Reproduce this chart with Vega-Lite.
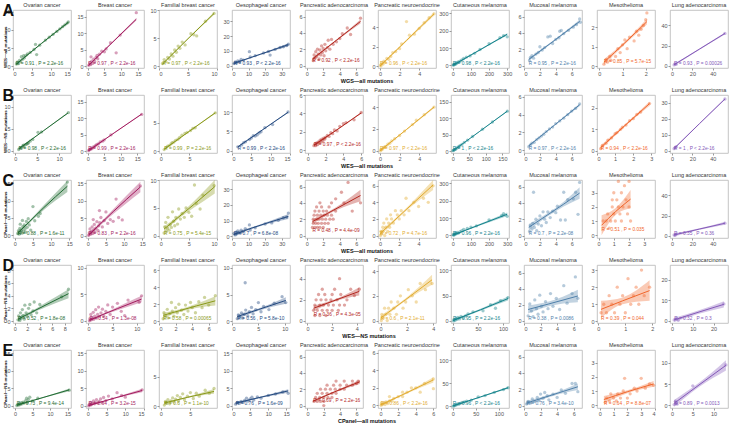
{
"$schema":"https://vega.github.io/schema/vega-lite/v6.json",
"padding":{"left":2,"top":2,"right":2,"bottom":1},
"config":{"font":"Liberation Sans","view":{"stroke":"#b5b5b5","strokeWidth":0.8},
"axis":{"grid":false,"domain":false,"tickColor":"#999","tickSize":2,"labelFontSize":5.5,"labelColor":"#555","labelPadding":1,"tickCount":3,"title":null},
"header":{"labelFontSize":5.5,"labelColor":"#333","labelPadding":2,"titleFontSize":5.5,"titleFontWeight":"bold","titleColor":"#111","titlePadding":1},
"headerColumn":{"titleOrient":"bottom","labelExpr":"['','Ovarian cancer','Breast cancer','Familial breast cancer','Oesophageal cancer','Pancreatic adenocarcinoma','Pancreatic neuroendocrine','Cutaneous melanoma','Mucosal melanoma','Mesothelioma','Lung adenocarcinoma'][datum.value]"},
"headerRow":{"labelFontWeight":"bold","labelAngle":-90,"labelOrient":"left","labelPadding":3,"labelColor":"#111","labelFontSize":4.4,"labelAnchor":"start"},
"concat":{"spacing":2},
"title":{"anchor":"start","fontSize":16,"fontWeight":"bold","color":"#111","offset":-16}},
"datasets":{
"A":[
{"k":"d","c":1,"x":0,"y":-0.5},{"k":"d","c":1,"x":15.2,"y":15.5},
{"k":"f","c":1,"x":0.8,"y":0.5,"l":0.3,"h":0.7},{"k":"f","c":1,"x":7.5,"y":6.3,"l":6.15,"h":6.45},{"k":"f","c":1,"x":14.5,"y":12.1,"l":11.8,"h":12.4},
{"k":"t","c":1,"x":0.8,"y":0.62,"s":"R = 0.91 , P = 2.2e-16"},
{"c":1,"x":0.9,"y":0.6},{"c":1,"x":1.1,"y":1.1},{"c":1,"x":1.4,"y":0.7},{"c":1,"x":1.7,"y":1.6},{"c":1,"x":2,"y":1.2},{"c":1,"x":2.2,"y":2.6},{"c":1,"x":2.5,"y":1.9},{"c":1,"x":2.8,"y":2.9},{"c":1,"x":3,"y":2.3},{"c":1,"x":3.4,"y":3},{"c":1,"x":3.8,"y":3.4},{"c":1,"x":4.5,"y":3.8},{"c":1,"x":5.5,"y":4.6},{"c":1,"x":5.9,"y":6},{"c":1,"x":6.2,"y":3.2},{"c":1,"x":7,"y":5.8},{"c":1,"x":8.5,"y":7.2},{"c":1,"x":9.5,"y":8},{"c":1,"x":10.5,"y":8.8},{"c":1,"x":11.5,"y":9.6},{"c":1,"x":12.3,"y":10.3},{"c":1,"x":13,"y":10.9},{"c":1,"x":13.6,"y":11.4},{"c":1,"x":14.2,"y":11.9},{"c":1,"x":14.5,"y":12.2},
{"k":"d","c":2,"x":-0.5,"y":-0.6},{"k":"d","c":2,"x":16.8,"y":17},
{"k":"f","c":2,"x":0.2,"y":0.1,"l":-0.1,"h":0.3},{"k":"f","c":2,"x":7,"y":6.8,"l":6.6,"h":7},{"k":"f","c":2,"x":14.5,"y":14.2,"l":13.8,"h":14.6},
{"k":"t","c":2,"x":0.2,"y":0.63,"s":"R = 0.97 , P < 2.2e-16"},
{"c":2,"x":0.3,"y":0.2},{"c":2,"x":0.6,"y":0.9},{"c":2,"x":0.9,"y":0.4},{"c":2,"x":1.2,"y":1.5},{"c":2,"x":1.5,"y":0.8},{"c":2,"x":1.8,"y":2.1},{"c":2,"x":2.1,"y":1.4},{"c":2,"x":2.5,"y":2.6},{"c":2,"x":3,"y":2.2},{"c":2,"x":3.5,"y":3.6},{"c":2,"x":4.2,"y":4.5},{"c":2,"x":5,"y":4.3},{"c":2,"x":5.5,"y":5.2},{"c":2,"x":6.8,"y":7.1},{"c":2,"x":8.5,"y":4},{"c":2,"x":9.7,"y":9.4},{"c":2,"x":14.5,"y":16.2},{"c":2,"x":2.8,"y":3.2},{"c":2,"x":1,"y":2.8},
{"k":"d","c":3,"x":0,"y":-0.3},{"k":"d","c":3,"x":10,"y":10},
{"k":"f","c":3,"x":0.6,"y":0.4,"l":0.25,"h":0.55},{"k":"f","c":3,"x":5,"y":4.9,"l":4.8,"h":5},{"k":"f","c":3,"x":9.5,"y":9.4,"l":9.15,"h":9.65},
{"k":"t","c":3,"x":0.6,"y":0.42,"s":"R = 0.97 , P < 2.2e-16"},
{"c":3,"x":0.6,"y":0.5},{"c":3,"x":0.9,"y":1.2},{"c":3,"x":1.2,"y":0.8},{"c":3,"x":1.5,"y":1.6},{"c":3,"x":1.8,"y":1.3},{"c":3,"x":2.1,"y":2.2},{"c":3,"x":2.4,"y":1.8},{"c":3,"x":2.7,"y":2.9},{"c":3,"x":3,"y":2.5},{"c":3,"x":3.3,"y":3.6},{"c":3,"x":3.6,"y":3.2},{"c":3,"x":4,"y":4.3},{"c":3,"x":4.5,"y":3.8},{"c":3,"x":5.5,"y":5.8},{"c":3,"x":6,"y":5.6},{"c":3,"x":6.5,"y":5.4},{"c":3,"x":8,"y":8},{"c":3,"x":9.5,"y":9.4},
{"k":"d","c":4,"x":0,"y":-1.5},{"k":"d","c":4,"x":35,"y":37.5},
{"k":"f","c":4,"x":1,"y":1.6,"l":0.9,"h":2.3},{"k":"f","c":4,"x":17,"y":7.7,"l":7.3,"h":8.1},{"k":"f","c":4,"x":34,"y":14.2,"l":13.2,"h":15.2},
{"k":"t","c":4,"x":1,"y":1.23,"s":"R = 0.93 , P < 2.2e-16"},
{"c":4,"x":1.2,"y":1.5},{"c":4,"x":2,"y":2.6},{"c":4,"x":2.8,"y":1.8},{"c":4,"x":3.5,"y":3.2},{"c":4,"x":4.5,"y":2.7},{"c":4,"x":5.5,"y":4.2},{"c":4,"x":7,"y":3.8},{"c":4,"x":10.5,"y":9.5},{"c":4,"x":11,"y":5.9},{"c":4,"x":14,"y":6.8},{"c":4,"x":19,"y":8.6},{"c":4,"x":22,"y":9.6},{"c":4,"x":23,"y":7.2},{"c":4,"x":26,"y":11},{"c":4,"x":29,"y":12.3},{"c":4,"x":31,"y":12.8},{"c":4,"x":33,"y":13.6},{"c":4,"x":34,"y":14.5},
{"k":"d","c":5,"x":-0.2,"y":-0.3},{"k":"d","c":5,"x":6.8,"y":6.8},
{"k":"f","c":5,"x":0.7,"y":0.8,"l":0.6,"h":1},{"k":"f","c":5,"x":3.6,"y":3.1,"l":3,"h":3.2},{"k":"f","c":5,"x":6.5,"y":5.4,"l":5.15,"h":5.65},
{"k":"t","c":5,"x":0.7,"y":0.55,"s":"R = 0.92 , P < 2.2e-16"},
{"c":5,"x":0.8,"y":0.6},{"c":5,"x":0.9,"y":1.3},{"c":5,"x":1,"y":0.9},{"c":5,"x":1.1,"y":1.7},{"c":5,"x":1.2,"y":1.1},{"c":5,"x":1.3,"y":2},{"c":5,"x":1.4,"y":1.4},{"c":5,"x":1.5,"y":0.8},{"c":5,"x":1.6,"y":1.9},{"c":5,"x":1.7,"y":1.3},{"c":5,"x":1.8,"y":2.4},{"c":5,"x":1.9,"y":1.6},{"c":5,"x":2,"y":2.1},{"c":5,"x":2.1,"y":1.2},{"c":5,"x":2.2,"y":2.6},{"c":5,"x":2.3,"y":1.8},{"c":5,"x":2.5,"y":2.2},{"c":5,"x":2.6,"y":3.1},{"c":5,"x":2.8,"y":2},{"c":5,"x":3,"y":3.2},{"c":5,"x":3.2,"y":2.6},{"c":5,"x":3.6,"y":2.9},{"c":5,"x":4,"y":3.3},{"c":5,"x":4.3,"y":3.9},{"c":5,"x":4.9,"y":4.6},{"c":5,"x":5.3,"y":3.8},{"c":5,"x":6.5,"y":5.8},
{"k":"d","c":6,"x":-0.2,"y":-0.2},{"k":"d","c":6,"x":5.7,"y":5.8},
{"k":"f","c":6,"x":0,"y":0,"l":-0.1,"h":0.1},{"k":"f","c":6,"x":2.7,"y":2.65,"l":2.55,"h":2.75},{"k":"f","c":6,"x":5.5,"y":5.4,"l":5.2,"h":5.6},
{"k":"t","c":6,"x":0,"y":0.22,"s":"R = 0.96 , P < 2.2e-16"},
{"c":6,"x":0.05,"y":0.1},{"c":6,"x":0.1,"y":0},{"c":6,"x":0.2,"y":0.3},{"c":6,"x":0.3,"y":0.2},{"c":6,"x":0.4,"y":0.5},{"c":6,"x":0.5,"y":0.4},{"c":6,"x":0.7,"y":0.8},{"c":6,"x":0.9,"y":0.7},{"c":6,"x":1.1,"y":1},{"c":6,"x":1.3,"y":1.4},{"c":6,"x":1.6,"y":1.5},{"c":6,"x":2,"y":1.8},{"c":6,"x":2.2,"y":2.3},{"c":6,"x":2.7,"y":4.6},{"c":6,"x":3,"y":3.2},{"c":6,"x":3.5,"y":3.3},{"c":6,"x":4,"y":3.9},{"c":6,"x":4.5,"y":4.5},{"c":6,"x":5,"y":5},{"c":6,"x":5.5,"y":5.4},
{"k":"d","c":7,"x":-10,"y":-15},{"k":"d","c":7,"x":310,"y":320},
{"k":"f","c":7,"x":0,"y":0,"l":-4,"h":4},{"k":"f","c":7,"x":150,"y":90,"l":86,"h":94},{"k":"f","c":7,"x":300,"y":180,"l":174,"h":186},
{"k":"t","c":7,"x":0,"y":8,"s":"R = 0.98 , P < 2.2e-16"},
{"c":7,"x":2,"y":3},{"c":7,"x":5,"y":2},{"c":7,"x":8,"y":7},{"c":7,"x":12,"y":9},{"c":7,"x":15,"y":6},{"c":7,"x":20,"y":14},{"c":7,"x":25,"y":15},{"c":7,"x":30,"y":20},{"c":7,"x":40,"y":24},{"c":7,"x":50,"y":32},{"c":7,"x":60,"y":40},{"c":7,"x":75,"y":48},{"c":7,"x":95,"y":55},{"c":7,"x":120,"y":70},{"c":7,"x":150,"y":92},{"c":7,"x":200,"y":125},{"c":7,"x":260,"y":160},{"c":7,"x":280,"y":172},{"c":7,"x":300,"y":165},
{"k":"d","c":8,"x":0,"y":-0.3},{"k":"d","c":8,"x":7.3,"y":6.8},
{"k":"f","c":8,"x":0.6,"y":0.75,"l":0.6,"h":0.9},{"k":"f","c":8,"x":3.8,"y":3.05,"l":2.95,"h":3.15},{"k":"f","c":8,"x":7,"y":5.4,"l":5.2,"h":5.6},
{"k":"t","c":8,"x":0.6,"y":0.2,"s":"R = 0.95 , P = 2.2e-16"},
{"c":8,"x":0.7,"y":0.6},{"c":8,"x":0.8,"y":1},{"c":8,"x":1,"y":1.2},{"c":8,"x":1.2,"y":0.9},{"c":8,"x":1.5,"y":1.4},{"c":8,"x":1.8,"y":1.6},{"c":8,"x":2,"y":2.3},{"c":8,"x":2.3,"y":1.9},{"c":8,"x":2.6,"y":2.2},{"c":8,"x":3,"y":3.5},{"c":8,"x":3.3,"y":3.6},{"c":8,"x":3.6,"y":2.7},{"c":8,"x":4,"y":3.2},{"c":8,"x":4.4,"y":3.4},{"c":8,"x":4.5,"y":4.2},{"c":8,"x":4.7,"y":4.3},{"c":8,"x":5,"y":3.9},{"c":8,"x":5.6,"y":4.3},{"c":8,"x":6.2,"y":4.7},{"c":8,"x":6.6,"y":5},{"c":8,"x":7,"y":5.7},{"c":8,"x":7.1,"y":5.3},
{"k":"d","c":9,"x":-0.1,"y":-0.1},{"k":"d","c":9,"x":2.4,"y":2.9},
{"k":"f","c":9,"x":0.2,"y":0.2,"l":0.05,"h":0.35},{"k":"f","c":9,"x":1.1,"y":1.2,"l":1.13,"h":1.27},{"k":"f","c":9,"x":2.05,"y":2.3,"l":2.15,"h":2.45},
{"k":"t","c":9,"x":0.2,"y":0.2,"s":"R = 0.85 , P = 5.7e-15"},
{"c":9,"x":0.2,"y":0.1},{"c":9,"x":0.3,"y":0.35},{"c":9,"x":0.35,"y":0.2},{"c":9,"x":0.45,"y":0.5},{"c":9,"x":0.5,"y":0.3},{"c":9,"x":0.7,"y":0.5},{"c":9,"x":0.8,"y":0.9},{"c":9,"x":0.9,"y":0.7},{"c":9,"x":1,"y":1.1},{"c":9,"x":1.1,"y":1.35},{"c":9,"x":1.2,"y":0.9},{"c":9,"x":1.3,"y":1.5},{"c":9,"x":1.5,"y":1.3},{"c":9,"x":1.6,"y":1.8},{"c":9,"x":1.8,"y":1.9},{"c":9,"x":1.9,"y":2.1},{"c":9,"x":2,"y":2.4},{"c":9,"x":2.05,"y":2.75},{"c":9,"x":1.7,"y":1.6},
{"k":"d","c":10,"x":-2,"y":-2},{"k":"d","c":10,"x":55,"y":55},
{"k":"f","c":10,"x":2,"y":1.2,"l":0.2,"h":2.2},{"k":"f","c":10,"x":27,"y":16.6,"l":16,"h":17.2},{"k":"f","c":10,"x":52,"y":32,"l":31,"h":33},
{"k":"t","c":10,"x":2,"y":2,"s":"R = 0.93 , P = 0.00026"},
{"c":10,"x":2,"y":1},{"c":10,"x":3,"y":2.2},{"c":10,"x":4,"y":1.5},{"c":10,"x":52,"y":32}
],
"B":[
{"k":"d","c":1,"x":-0.5,"y":-0.5},{"k":"d","c":1,"x":12.7,"y":12.7},
{"k":"f","c":1,"x":0.8,"y":0.45,"l":0.35,"h":0.55},{"k":"f","c":1,"x":6.5,"y":4.6,"l":4.55,"h":4.65},{"k":"f","c":1,"x":12,"y":8.6,"l":8.45,"h":8.75},
{"k":"t","c":1,"x":0.8,"y":0.42,"s":"R = 0.98 , P < 2.2e-16"},
{"c":1,"x":0.8,"y":0.3},{"c":1,"x":1.1,"y":0.7},{"c":1,"x":1.4,"y":0.6},{"c":1,"x":1.7,"y":1.1},{"c":1,"x":2,"y":0.9},{"c":1,"x":2.3,"y":1.4},{"c":1,"x":2.6,"y":1.5},{"c":1,"x":3,"y":1.8},{"c":1,"x":3.4,"y":2.2},{"c":1,"x":4,"y":2.6},{"c":1,"x":5.2,"y":4.2},{"c":1,"x":6,"y":4.3},{"c":1,"x":12.1,"y":8.7},{"c":1,"x":2.8,"y":1.7},{"c":1,"x":1.9,"y":1.3},
{"k":"d","c":2,"x":-0.5,"y":-0.6},{"k":"d","c":2,"x":17,"y":17},
{"k":"f","c":2,"x":0.2,"y":0.05,"l":-0.05,"h":0.15},{"k":"f","c":2,"x":8,"y":5.5,"l":5.4,"h":5.6},{"k":"f","c":2,"x":16.3,"y":11.2,"l":11.05,"h":11.35},
{"k":"t","c":2,"x":0.2,"y":0.63,"s":"R = 0.99 , P = 2.2e-16"},
{"c":2,"x":0.3,"y":0.1},{"c":2,"x":0.5,"y":0.4},{"c":2,"x":0.8,"y":0.5},{"c":2,"x":1,"y":0.8},{"c":2,"x":1.3,"y":0.7},{"c":2,"x":1.6,"y":1.2},{"c":2,"x":2,"y":1.3},{"c":2,"x":2.4,"y":1.7},{"c":2,"x":2.8,"y":2},{"c":2,"x":3.3,"y":2.2},{"c":2,"x":3.8,"y":2.8},{"c":2,"x":4.5,"y":3},{"c":2,"x":5,"y":3.4},{"c":2,"x":7,"y":4.9},{"c":2,"x":16.3,"y":11.1},
{"k":"d","c":3,"x":-0.3,"y":-0.3},{"k":"d","c":3,"x":9.8,"y":9.8},
{"k":"f","c":3,"x":0.6,"y":0.35,"l":0.25,"h":0.45},{"k":"f","c":3,"x":5,"y":3.5,"l":3.45,"h":3.55},{"k":"f","c":3,"x":9.5,"y":6.7,"l":6.55,"h":6.85},
{"k":"t","c":3,"x":0.6,"y":0.41,"s":"R = 0.99 , P = 2.2e-16"},
{"c":3,"x":0.6,"y":0.3},{"c":3,"x":0.9,"y":0.6},{"c":3,"x":1.2,"y":0.9},{"c":3,"x":1.5,"y":1},{"c":3,"x":1.8,"y":1.3},{"c":3,"x":2,"y":1.5},{"c":3,"x":2.3,"y":1.6},{"c":3,"x":2.6,"y":1.9},{"c":3,"x":3,"y":2.1},{"c":3,"x":3.3,"y":2.4},{"c":3,"x":3.7,"y":2.8},{"c":3,"x":4.2,"y":3.1},{"c":3,"x":4.6,"y":3.3},{"c":3,"x":5.2,"y":3.6},{"c":3,"x":5.6,"y":4},{"c":3,"x":6,"y":4.1},{"c":3,"x":9.5,"y":6.7},
{"k":"d","c":4,"x":0,"y":-0.6},{"k":"d","c":4,"x":15,"y":14.5},
{"k":"f","c":4,"x":1.5,"y":1,"l":0.85,"h":1.15},{"k":"f","c":4,"x":8,"y":5.5,"l":5.4,"h":5.6},{"k":"f","c":4,"x":14.5,"y":10,"l":9.8,"h":10.2},
{"k":"t","c":4,"x":1.5,"y":0.46,"s":"R = 0.99 , P < 2.2e-16"},
{"c":4,"x":1.5,"y":1},{"c":4,"x":2.5,"y":1.5},{"c":4,"x":3,"y":2.1},{"c":4,"x":3.5,"y":2.3},{"c":4,"x":4.5,"y":2.9},{"c":4,"x":5,"y":3.3},{"c":4,"x":5.5,"y":3.9},{"c":4,"x":6,"y":3.8},{"c":4,"x":6.5,"y":4.1},{"c":4,"x":7,"y":4.6},{"c":4,"x":7.5,"y":4.9},{"c":4,"x":8.5,"y":6},{"c":4,"x":10.5,"y":6.8},{"c":4,"x":14.5,"y":10.1},
{"k":"d","c":5,"x":-0.3,"y":-0.3},{"k":"d","c":5,"x":6.2,"y":6},
{"k":"f","c":5,"x":0.7,"y":0.55,"l":0.45,"h":0.65},{"k":"f","c":5,"x":3.4,"y":2.3,"l":2.25,"h":2.35},{"k":"f","c":5,"x":6,"y":4.05,"l":3.95,"h":4.15},
{"k":"t","c":5,"x":0.7,"y":0.52,"s":"R = 0.97 , P < 2.2e-16"},
{"c":5,"x":0.7,"y":0.5},{"c":5,"x":0.8,"y":0.7},{"c":5,"x":0.9,"y":0.5},{"c":5,"x":1,"y":0.8},{"c":5,"x":1.1,"y":0.6},{"c":5,"x":1.2,"y":0.9},{"c":5,"x":1.3,"y":0.8},{"c":5,"x":1.4,"y":1.1},{"c":5,"x":1.5,"y":0.9},{"c":5,"x":1.6,"y":1.2},{"c":5,"x":1.7,"y":1},{"c":5,"x":1.8,"y":1.3},{"c":5,"x":1.9,"y":1.2},{"c":5,"x":2,"y":1.4},{"c":5,"x":2.2,"y":1.6},{"c":5,"x":2.4,"y":1.5},{"c":5,"x":2.6,"y":1.9},{"c":5,"x":2.8,"y":1.8},{"c":5,"x":3,"y":2.2},{"c":5,"x":3.3,"y":2.1},{"c":5,"x":3.6,"y":2.6},{"c":5,"x":4,"y":2.9},{"c":5,"x":4.3,"y":3},{"c":5,"x":5.2,"y":3.3},{"c":5,"x":6,"y":4.1},
{"k":"d","c":6,"x":-0.2,"y":-0.2},{"k":"d","c":6,"x":5.7,"y":5.1},
{"k":"f","c":6,"x":0,"y":0,"l":-0.05,"h":0.05},{"k":"f","c":6,"x":2.7,"y":1.95,"l":1.9,"h":2},{"k":"f","c":6,"x":5.5,"y":4,"l":3.9,"h":4.1},
{"k":"t","c":6,"x":0,"y":0.17,"s":"R = 0.97 , P < 2.2e-16"},
{"c":6,"x":0.05,"y":0},{"c":6,"x":0.1,"y":0.1},{"c":6,"x":0.2,"y":0.1},{"c":6,"x":0.3,"y":0.25},{"c":6,"x":0.4,"y":0.3},{"c":6,"x":0.5,"y":0.35},{"c":6,"x":0.6,"y":0.4},{"c":6,"x":0.8,"y":0.6},{"c":6,"x":1,"y":0.7},{"c":6,"x":1.2,"y":0.9},{"c":6,"x":1.5,"y":1.1},{"c":6,"x":2,"y":1.4},{"c":6,"x":2.5,"y":1.8},{"c":6,"x":3.3,"y":2.4},{"c":6,"x":3.7,"y":2.8},{"c":6,"x":4.5,"y":3.3},{"c":6,"x":5.5,"y":4},
{"k":"d","c":7,"x":-5,"y":-6},{"k":"d","c":7,"x":170,"y":170},
{"k":"f","c":7,"x":0,"y":0,"l":-1,"h":1},{"k":"f","c":7,"x":82,"y":60,"l":59,"h":61},{"k":"f","c":7,"x":165,"y":121,"l":119,"h":123},
{"k":"t","c":7,"x":0,"y":6.3,"s":"R = 1 , P < 2.2e-16"},
{"c":7,"x":1,"y":1},{"c":7,"x":3,"y":2},{"c":7,"x":5,"y":4},{"c":7,"x":8,"y":5},{"c":7,"x":10,"y":7},{"c":7,"x":14,"y":10},{"c":7,"x":18,"y":13},{"c":7,"x":22,"y":16},{"c":7,"x":28,"y":20},{"c":7,"x":35,"y":26},{"c":7,"x":45,"y":33},{"c":7,"x":60,"y":44},{"c":7,"x":90,"y":66},{"c":7,"x":120,"y":88},{"c":7,"x":165,"y":121},
{"k":"d","c":8,"x":0,"y":-0.3},{"k":"d","c":8,"x":7.3,"y":6.2},
{"k":"f","c":8,"x":0.6,"y":0.5,"l":0.4,"h":0.6},{"k":"f","c":8,"x":3.8,"y":2.8,"l":2.75,"h":2.85},{"k":"f","c":8,"x":7,"y":5.1,"l":4.95,"h":5.25},
{"k":"t","c":8,"x":0.6,"y":0.15,"s":"R = 0.97 , P < 2.2e-16"},
{"c":8,"x":0.6,"y":0.4},{"c":8,"x":0.8,"y":0.6},{"c":8,"x":1,"y":0.8},{"c":8,"x":1.3,"y":0.9},{"c":8,"x":1.6,"y":1.2},{"c":8,"x":1.9,"y":1.4},{"c":8,"x":2.2,"y":1.6},{"c":8,"x":2.5,"y":1.8},{"c":8,"x":2.8,"y":2.1},{"c":8,"x":3.2,"y":2.4},{"c":8,"x":3.6,"y":2.6},{"c":8,"x":4,"y":3},{"c":8,"x":4.5,"y":3.3},{"c":8,"x":5,"y":3.6},{"c":8,"x":5.5,"y":4},{"c":8,"x":6,"y":4.4},{"c":8,"x":6.5,"y":4.7},{"c":8,"x":7,"y":5.2},
{"k":"d","c":9,"x":0,"y":-0.1},{"k":"d","c":9,"x":3.2,"y":2.6},
{"k":"f","c":9,"x":0.2,"y":0.15,"l":0.05,"h":0.25},{"k":"f","c":9,"x":1.5,"y":1.15,"l":1.1,"h":1.2},{"k":"f","c":9,"x":2.9,"y":2.2,"l":2.1,"h":2.3},
{"k":"t","c":9,"x":0.2,"y":0.09,"s":"R = 0.94 , P < 2.2e-16"},
{"c":9,"x":0.2,"y":0.1},{"c":9,"x":0.3,"y":0.25},{"c":9,"x":0.5,"y":0.35},{"c":9,"x":0.6,"y":0.5},{"c":9,"x":0.8,"y":0.6},{"c":9,"x":1,"y":0.8},{"c":9,"x":1.1,"y":0.85},{"c":9,"x":1.3,"y":1},{"c":9,"x":1.4,"y":1.1},{"c":9,"x":1.6,"y":1.2},{"c":9,"x":1.8,"y":1.4},{"c":9,"x":2,"y":1.5},{"c":9,"x":2.2,"y":1.7},{"c":9,"x":2.4,"y":1.8},{"c":9,"x":2.9,"y":2.2},
{"k":"d","c":10,"x":-2,"y":-1.5},{"k":"d","c":10,"x":55,"y":35},
{"k":"f","c":10,"x":2,"y":1.3,"l":0.8,"h":1.8},{"k":"f","c":10,"x":27,"y":17,"l":16.7,"h":17.3},{"k":"f","c":10,"x":52,"y":32.5,"l":32,"h":33},
{"k":"t","c":10,"x":2,"y":1.05,"s":"R = 1 , P < 2.2e-16"},
{"c":10,"x":2,"y":1.2},{"c":10,"x":3,"y":1.8},{"c":10,"x":4,"y":2.5},{"c":10,"x":52,"y":32.5}
],
"C":[
{"k":"d","c":1,"x":-0.5,"y":-0.8},{"k":"d","c":1,"x":15.5,"y":16},
{"k":"f","c":1,"x":0.8,"y":0.6,"l":0,"h":1.2},{"k":"f","c":1,"x":4,"y":3.9,"l":3.5,"h":4.3},{"k":"f","c":1,"x":8,"y":8,"l":7.3,"h":8.7},{"k":"f","c":1,"x":14.5,"y":14.2,"l":12.5,"h":15.8},
{"k":"t","c":1,"x":0.8,"y":0.38,"s":"R = 0.88 , P = 1.6e-11"},
{"c":1,"x":0.8,"y":0.5},{"c":1,"x":1,"y":1.3},{"c":1,"x":1.2,"y":0.3},{"c":1,"x":1.4,"y":2},{"c":1,"x":1.6,"y":0.8},{"c":1,"x":1.8,"y":1.4},{"c":1,"x":2,"y":0.6},{"c":1,"x":2.2,"y":2.5},{"c":1,"x":2.4,"y":1.2},{"c":1,"x":2.6,"y":3},{"c":1,"x":2.8,"y":1.8},{"c":1,"x":3,"y":0.9},{"c":1,"x":3.2,"y":4},{"c":1,"x":3.4,"y":2.3},{"c":1,"x":3.7,"y":4.8},{"c":1,"x":4,"y":3},{"c":1,"x":4.4,"y":1.5},{"c":1,"x":5,"y":8.3},{"c":1,"x":5.5,"y":4.2},{"c":1,"x":6.5,"y":5.5},{"c":1,"x":7,"y":6.3},{"c":1,"x":14.5,"y":15.4},{"c":1,"x":2.1,"y":4.3},{"c":1,"x":1.5,"y":3.2},
{"k":"d","c":2,"x":-0.5,"y":-0.7},{"k":"d","c":2,"x":15.5,"y":16},
{"k":"f","c":2,"x":0.2,"y":0.1,"l":-0.5,"h":0.7},{"k":"f","c":2,"x":3.5,"y":3.4,"l":3,"h":3.8},{"k":"f","c":2,"x":7,"y":6.9,"l":6.2,"h":7.6},{"k":"f","c":2,"x":14.5,"y":14,"l":12.5,"h":15.5},
{"k":"t","c":2,"x":0.2,"y":0.47,"s":"R = 0.83 , P = 2.2e-16"},
{"c":2,"x":0.2,"y":0.1},{"c":2,"x":0.4,"y":0.8},{"c":2,"x":0.6,"y":1.9},{"c":2,"x":0.8,"y":0.4},{"c":2,"x":1,"y":1.2},{"c":2,"x":1.2,"y":2.5},{"c":2,"x":1.4,"y":0.6},{"c":2,"x":1.6,"y":1.6},{"c":2,"x":1.8,"y":3.2},{"c":2,"x":2,"y":1},{"c":2,"x":2.2,"y":2.1},{"c":2,"x":2.5,"y":4},{"c":2,"x":2.8,"y":1.5},{"c":2,"x":3,"y":2.8},{"c":2,"x":3.3,"y":3.7},{"c":2,"x":3.6,"y":5.2},{"c":2,"x":4,"y":2.5},{"c":2,"x":4.5,"y":4.3},{"c":2,"x":5,"y":6.8},{"c":2,"x":5.5,"y":3.5},{"c":2,"x":6.2,"y":4.6},{"c":2,"x":7,"y":4.1},{"c":2,"x":7.8,"y":10.5},{"c":2,"x":8.5,"y":5.2},{"c":2,"x":9.5,"y":4.5},{"c":2,"x":14.5,"y":14.3},{"c":2,"x":3.2,"y":7.2},{"c":2,"x":1.5,"y":4.6},
{"k":"d","c":3,"x":-0.3,"y":-0.4},{"k":"d","c":3,"x":10,"y":10},
{"k":"f","c":3,"x":0.6,"y":1.2,"l":0.7,"h":1.7},{"k":"f","c":3,"x":3,"y":3.2,"l":2.9,"h":3.5},{"k":"f","c":3,"x":6,"y":5.7,"l":5.1,"h":6.3},{"k":"f","c":3,"x":9.6,"y":8.8,"l":7.6,"h":10},
{"k":"t","c":3,"x":0.6,"y":0.33,"s":"R = 0.75 , P = 5.4e-15"},
{"c":3,"x":0.6,"y":0.5},{"c":3,"x":0.7,"y":1.6},{"c":3,"x":0.9,"y":2.4},{"c":3,"x":1,"y":0.8},{"c":3,"x":1.2,"y":1.3},{"c":3,"x":1.3,"y":3.3},{"c":3,"x":1.5,"y":1},{"c":3,"x":1.7,"y":2},{"c":3,"x":1.9,"y":1.5},{"c":3,"x":2.1,"y":4.3},{"c":3,"x":2.3,"y":2.6},{"c":3,"x":2.5,"y":1.8},{"c":3,"x":2.7,"y":3.3},{"c":3,"x":3,"y":2.1},{"c":3,"x":3.2,"y":4.8},{"c":3,"x":3.5,"y":3},{"c":3,"x":3.8,"y":4},{"c":3,"x":4.2,"y":3.3},{"c":3,"x":4.5,"y":5},{"c":3,"x":5,"y":4.2},{"c":3,"x":5.5,"y":3.5},{"c":3,"x":6,"y":9.1},{"c":3,"x":6.3,"y":5.8},{"c":3,"x":7,"y":4.8},{"c":3,"x":7.5,"y":7.3},{"c":3,"x":9.5,"y":9},
{"k":"d","c":4,"x":0,"y":-1.2},{"k":"d","c":4,"x":35,"y":36},
{"k":"f","c":4,"x":1,"y":1,"l":-0.2,"h":2.2},{"k":"f","c":4,"x":12,"y":5.2,"l":4.6,"h":5.8},{"k":"f","c":4,"x":34,"y":12.6,"l":11,"h":14.2},
{"k":"t","c":4,"x":1,"y":1.4,"s":"R = 0.7 , P = 6.8e-08"},
{"c":4,"x":1.2,"y":1.8},{"c":4,"x":2,"y":0.8},{"c":4,"x":2.5,"y":2.5},{"c":4,"x":3,"y":1.5},{"c":4,"x":3.5,"y":3.3},{"c":4,"x":4,"y":2.3},{"c":4,"x":5,"y":1.8},{"c":4,"x":5.5,"y":3.8},{"c":4,"x":6.5,"y":2.9},{"c":4,"x":8,"y":4.8},{"c":4,"x":10.5,"y":7.2},{"c":4,"x":11,"y":3.9},{"c":4,"x":14,"y":5.3},{"c":4,"x":20,"y":7.8},{"c":4,"x":24,"y":8.5},{"c":4,"x":28,"y":10.2},{"c":4,"x":31,"y":11.8},{"c":4,"x":34,"y":14.8},{"c":4,"x":33,"y":12.2},
{"k":"d","c":5,"x":-0.2,"y":-0.3},{"k":"d","c":5,"x":6.8,"y":6.8},
{"k":"f","c":5,"x":0.7,"y":1.7,"l":1.4,"h":2},{"k":"f","c":5,"x":2.5,"y":2.7,"l":2.55,"h":2.85},{"k":"f","c":5,"x":4.5,"y":3.8,"l":3.5,"h":4.1},{"k":"f","c":5,"x":6.5,"y":4.9,"l":4.2,"h":5.6},
{"k":"t","c":5,"x":0.7,"y":0.55,"s":"R = 0.48 , P = 4.4e-09"},
{"c":5,"x":0.7,"y":1},{"c":5,"x":1,"y":1},{"c":5,"x":1.3,"y":1},{"c":5,"x":1.6,"y":1},{"c":5,"x":2,"y":1},{"c":5,"x":0.8,"y":1.5},{"c":5,"x":1.1,"y":1.5},{"c":5,"x":1.4,"y":1.5},{"c":5,"x":1.8,"y":1.5},{"c":5,"x":2.2,"y":1.5},{"c":5,"x":2.6,"y":1.5},{"c":5,"x":0.8,"y":2},{"c":5,"x":1.2,"y":2},{"c":5,"x":1.5,"y":2},{"c":5,"x":1.9,"y":2},{"c":5,"x":2.3,"y":2},{"c":5,"x":2.8,"y":2},{"c":5,"x":3.2,"y":2},{"c":5,"x":0.9,"y":2.5},{"c":5,"x":1.3,"y":2.5},{"c":5,"x":1.7,"y":2.5},{"c":5,"x":2.1,"y":2.5},{"c":5,"x":2.5,"y":2.5},{"c":5,"x":3,"y":2.5},{"c":5,"x":1,"y":3},{"c":5,"x":1.5,"y":3},{"c":5,"x":2,"y":3},{"c":5,"x":2.4,"y":3},{"c":5,"x":3.5,"y":3},{"c":5,"x":1.2,"y":3.5},{"c":5,"x":1.8,"y":3.5},{"c":5,"x":2.7,"y":3.5},{"c":5,"x":1.6,"y":4},{"c":5,"x":3,"y":4},{"c":5,"x":4.5,"y":4},{"c":5,"x":5,"y":6.5},{"c":5,"x":4.2,"y":5.3},{"c":5,"x":6.5,"y":4},{"c":5,"x":5.5,"y":3},{"c":5,"x":3.5,"y":4.5},
{"k":"d","c":6,"x":-0.2,"y":-0.3},{"k":"d","c":6,"x":5.8,"y":6.5},
{"k":"f","c":6,"x":0,"y":0.2,"l":-0.1,"h":0.5},{"k":"f","c":6,"x":2.5,"y":2.9,"l":2.75,"h":3.05},{"k":"f","c":6,"x":5.5,"y":6.1,"l":5.5,"h":6.7},
{"k":"t","c":6,"x":0,"y":0.18,"s":"R = 0.72 , P = 4.7e-16"},
{"c":6,"x":0.05,"y":0},{"c":6,"x":0.1,"y":0.5},{"c":6,"x":0.2,"y":0.2},{"c":6,"x":0.3,"y":1},{"c":6,"x":0.3,"y":0.5},{"c":6,"x":0.4,"y":1.5},{"c":6,"x":0.5,"y":0},{"c":6,"x":0.6,"y":1},{"c":6,"x":0.7,"y":2},{"c":6,"x":0.8,"y":0.5},{"c":6,"x":0.9,"y":1.5},{"c":6,"x":1,"y":1},{"c":6,"x":1.1,"y":2.5},{"c":6,"x":1.2,"y":2},{"c":6,"x":1.4,"y":1.5},{"c":6,"x":1.6,"y":3},{"c":6,"x":1.8,"y":2.5},{"c":6,"x":2,"y":2},{"c":6,"x":2.2,"y":3},{"c":6,"x":2.5,"y":2.5},{"c":6,"x":2.7,"y":4.5},{"c":6,"x":3,"y":3},{"c":6,"x":3.5,"y":4},{"c":6,"x":4,"y":3.5},{"c":6,"x":4.5,"y":4.5},{"c":6,"x":5,"y":4},{"c":6,"x":5.5,"y":6},
{"k":"d","c":7,"x":-10,"y":-15},{"k":"d","c":7,"x":310,"y":320},
{"k":"f","c":7,"x":0,"y":1,"l":-3,"h":5},{"k":"f","c":7,"x":150,"y":62,"l":57,"h":67},{"k":"f","c":7,"x":300,"y":122,"l":112,"h":132},
{"k":"t","c":7,"x":0,"y":8,"s":"R = 0.96 , P = 2.2e-16"},
{"c":7,"x":2,"y":4},{"c":7,"x":5,"y":1},{"c":7,"x":8,"y":9},{"c":7,"x":12,"y":5},{"c":7,"x":15,"y":14},{"c":7,"x":20,"y":10},{"c":7,"x":25,"y":18},{"c":7,"x":30,"y":12},{"c":7,"x":40,"y":22},{"c":7,"x":50,"y":28},{"c":7,"x":60,"y":35},{"c":7,"x":80,"y":40},{"c":7,"x":100,"y":48},{"c":7,"x":130,"y":55},{"c":7,"x":200,"y":90},{"c":7,"x":270,"y":115},{"c":7,"x":300,"y":110},{"c":7,"x":280,"y":125},
{"k":"d","c":8,"x":0,"y":-0.3},{"k":"d","c":8,"x":7.3,"y":6.8},
{"k":"f","c":8,"x":0.6,"y":1,"l":0.6,"h":1.4},{"k":"f","c":8,"x":3,"y":2.55,"l":2.35,"h":2.75},{"k":"f","c":8,"x":5,"y":3.85,"l":3.55,"h":4.15},{"k":"f","c":8,"x":7,"y":5.2,"l":4.5,"h":5.9},
{"k":"t","c":8,"x":0.6,"y":0.2,"s":"R = 0.7 , P = 2.2e-08"},
{"c":8,"x":0.7,"y":0.5},{"c":8,"x":0.8,"y":1.2},{"c":8,"x":1,"y":0.8},{"c":8,"x":1.1,"y":1.5},{"c":8,"x":1.2,"y":5.3},{"c":8,"x":1.3,"y":1},{"c":8,"x":1.5,"y":2},{"c":8,"x":1.6,"y":0.6},{"c":8,"x":1.8,"y":1.4},{"c":8,"x":2,"y":2.4},{"c":8,"x":2.2,"y":1.2},{"c":8,"x":2.4,"y":2.9},{"c":8,"x":2.6,"y":2},{"c":8,"x":2.8,"y":1.6},{"c":8,"x":3,"y":2.9},{"c":8,"x":3.3,"y":2.2},{"c":8,"x":3.6,"y":3},{"c":8,"x":4,"y":2.8},{"c":8,"x":4.2,"y":3.6},{"c":8,"x":4.6,"y":1.9},{"c":8,"x":5,"y":5.3},{"c":8,"x":5.2,"y":1.9},{"c":8,"x":5.5,"y":4.4},{"c":8,"x":6.2,"y":4.5},{"c":8,"x":6.8,"y":2.6},{"c":8,"x":7,"y":6.5},{"c":8,"x":6.5,"y":5.3},
{"k":"d","c":9,"x":-0.1,"y":-0.2},{"k":"d","c":9,"x":3.7,"y":3.9},
{"k":"f","c":9,"x":0.2,"y":0.7,"l":0,"h":1.4},{"k":"f","c":9,"x":1.1,"y":1.65,"l":1.4,"h":1.9},{"k":"f","c":9,"x":2.1,"y":2.55,"l":1.9,"h":3.2},
{"k":"t","c":9,"x":0.2,"y":0.4,"s":"R = 0.51 , P = 0.035"},
{"c":9,"x":0.3,"y":1},{"c":9,"x":0.5,"y":1},{"c":9,"x":0.6,"y":1.5},{"c":9,"x":0.7,"y":0.5},{"c":9,"x":0.8,"y":1},{"c":9,"x":0.9,"y":2},{"c":9,"x":1,"y":1.5},{"c":9,"x":1,"y":3},{"c":9,"x":1.1,"y":1},{"c":9,"x":1.2,"y":2.5},{"c":9,"x":1.3,"y":2},{"c":9,"x":1.4,"y":1.5},{"c":9,"x":1.5,"y":3},{"c":9,"x":1.5,"y":1},{"c":9,"x":1.6,"y":2},{"c":9,"x":1.7,"y":3.5},{"c":9,"x":1.8,"y":2.5},{"c":9,"x":1.9,"y":1.5},{"c":9,"x":2,"y":2},{"c":9,"x":2.1,"y":1},{"c":9,"x":2,"y":3.8},{"c":9,"x":1.3,"y":3.8},{"c":9,"x":0.9,"y":2.5},
{"k":"d","c":10,"x":-2,"y":-2},{"k":"d","c":10,"x":55,"y":55},
{"k":"f","c":10,"x":2,"y":1,"l":-0.5,"h":2.5},{"k":"f","c":10,"x":27,"y":6.8,"l":6,"h":7.6},{"k":"f","c":10,"x":52,"y":12.5,"l":11,"h":14},
{"k":"t","c":10,"x":2,"y":2,"s":"R = 0.35 , P = 0.36"},
{"c":10,"x":2,"y":1},{"c":10,"x":3,"y":0.5},{"c":10,"x":4,"y":2},{"c":10,"x":52,"y":12.6}
],
"D":[
{"k":"d","c":1,"x":-0.3,"y":-0.3},{"k":"d","c":1,"x":9,"y":8.8},
{"k":"f","c":1,"x":0.5,"y":0.3,"l":-0.1,"h":0.7},{"k":"f","c":1,"x":2.5,"y":1.3,"l":1.1,"h":1.5},{"k":"f","c":1,"x":5,"y":2.55,"l":2.2,"h":2.9},{"k":"f","c":1,"x":8.6,"y":4.3,"l":3.6,"h":5},
{"k":"t","c":1,"x":0.5,"y":0.34,"s":"R = 0.52 , P = 1.8e-08"},
{"c":1,"x":0.5,"y":0.2},{"c":1,"x":0.6,"y":0.8},{"c":1,"x":0.8,"y":0.1},{"c":1,"x":0.9,"y":1.3},{"c":1,"x":1,"y":0.5},{"c":1,"x":1.2,"y":1.8},{"c":1,"x":1.3,"y":0.9},{"c":1,"x":1.5,"y":0.3},{"c":1,"x":1.6,"y":2.5},{"c":1,"x":1.8,"y":1.3},{"c":1,"x":2,"y":0.7},{"c":1,"x":2.2,"y":2},{"c":1,"x":2.4,"y":2.6},{"c":1,"x":2.6,"y":1},{"c":1,"x":2.9,"y":1.6},{"c":1,"x":3.1,"y":3},{"c":1,"x":3.5,"y":1.3},{"c":1,"x":4,"y":2.6},{"c":1,"x":8.6,"y":5},{"c":1,"x":7.5,"y":3.8},
{"k":"d","c":2,"x":-0.5,"y":-0.4},{"k":"d","c":2,"x":11.5,"y":10.5},
{"k":"f","c":2,"x":0.2,"y":0.1,"l":-0.2,"h":0.4},{"k":"f","c":2,"x":3,"y":1.2,"l":1.05,"h":1.35},{"k":"f","c":2,"x":6,"y":2.3,"l":2,"h":2.6},{"k":"f","c":2,"x":11,"y":4.1,"l":3.5,"h":4.7},
{"k":"t","c":2,"x":0.2,"y":0.36,"s":"R = 0.54 , P = 1.3e-08"},
{"c":2,"x":0.2,"y":0},{"c":2,"x":0.3,"y":0.4},{"c":2,"x":0.5,"y":1.2},{"c":2,"x":0.6,"y":0.2},{"c":2,"x":0.8,"y":0.6},{"c":2,"x":1,"y":1.6},{"c":2,"x":1.1,"y":0.3},{"c":2,"x":1.3,"y":0.9},{"c":2,"x":1.5,"y":2.1},{"c":2,"x":1.7,"y":0.5},{"c":2,"x":1.9,"y":1.2},{"c":2,"x":2.1,"y":2.6},{"c":2,"x":2.3,"y":0.8},{"c":2,"x":2.6,"y":1.5},{"c":2,"x":2.9,"y":2.2},{"c":2,"x":3.2,"y":0.9},{"c":2,"x":3.6,"y":1.8},{"c":2,"x":4,"y":3},{"c":2,"x":4.5,"y":1.2},{"c":2,"x":5,"y":2.6},{"c":2,"x":6,"y":3.3},{"c":2,"x":6.8,"y":1.8},{"c":2,"x":7.5,"y":1},{"c":2,"x":8.2,"y":3.9},{"c":2,"x":10.5,"y":3.5},{"c":2,"x":11,"y":4.7},
{"k":"d","c":3,"x":0,"y":-0.2},{"k":"d","c":3,"x":7,"y":6.6},
{"k":"f","c":3,"x":0.5,"y":0.7,"l":0.4,"h":1},{"k":"f","c":3,"x":2.5,"y":1.25,"l":1.1,"h":1.4},{"k":"f","c":3,"x":4.5,"y":1.8,"l":1.55,"h":2.05},{"k":"f","c":3,"x":6.8,"y":2.4,"l":1.85,"h":2.95},
{"k":"t","c":3,"x":0.5,"y":0.28,"s":"R = 0.58 , P = 0.00065"},
{"c":3,"x":0.5,"y":0.3},{"c":3,"x":0.6,"y":1},{"c":3,"x":0.8,"y":0.6},{"c":3,"x":1,"y":1.4},{"c":3,"x":1.1,"y":0.4},{"c":3,"x":1.3,"y":0.9},{"c":3,"x":1.5,"y":2.2},{"c":3,"x":1.6,"y":1.2},{"c":3,"x":1.8,"y":0.6},{"c":3,"x":2,"y":1.6},{"c":3,"x":2.2,"y":1},{"c":3,"x":2.4,"y":2},{"c":3,"x":2.7,"y":1.3},{"c":3,"x":3,"y":0.8},{"c":3,"x":3.2,"y":1.9},{"c":3,"x":3.5,"y":1.2},{"c":3,"x":3.8,"y":2.2},{"c":3,"x":4,"y":1.6},{"c":3,"x":4.4,"y":1},{"c":3,"x":4.8,"y":2.3},{"c":3,"x":5.2,"y":1.6},{"c":3,"x":5.5,"y":2.8},{"c":3,"x":6,"y":1.9},{"c":3,"x":6.8,"y":3},
{"k":"d","c":4,"x":0,"y":-0.3},{"k":"d","c":4,"x":11,"y":10.5},
{"k":"f","c":4,"x":1,"y":0.9,"l":0.5,"h":1.3},{"k":"f","c":4,"x":5,"y":2.2,"l":2,"h":2.4},{"k":"f","c":4,"x":10.2,"y":3.9,"l":3.3,"h":4.5},
{"k":"t","c":4,"x":1,"y":0.46,"s":"R = 0.56 , P = 5.8e-10"},
{"c":4,"x":1,"y":0.5},{"c":4,"x":1.2,"y":1.2},{"c":4,"x":1.5,"y":0.8},{"c":4,"x":1.8,"y":1.6},{"c":4,"x":2,"y":0.6},{"c":4,"x":2.3,"y":1.3},{"c":4,"x":2.6,"y":2.1},{"c":4,"x":3,"y":1},{"c":4,"x":3.3,"y":1.8},{"c":4,"x":3.7,"y":2.6},{"c":4,"x":4,"y":1.4},{"c":4,"x":4.5,"y":2.2},{"c":4,"x":5,"y":3.5},{"c":4,"x":5.5,"y":1.8},{"c":4,"x":6,"y":2.8},{"c":4,"x":7,"y":2.2},{"c":4,"x":8,"y":3.4},{"c":4,"x":9.5,"y":4.6},{"c":4,"x":10.2,"y":3.5},{"c":4,"x":2.5,"y":7.2},
{"k":"d","c":5,"x":-0.2,"y":-0.2},{"k":"d","c":5,"x":4.5,"y":5.3},
{"k":"f","c":5,"x":0.5,"y":1.2,"l":0.95,"h":1.45},{"k":"f","c":5,"x":2,"y":1.85,"l":1.75,"h":1.95},{"k":"f","c":5,"x":4.2,"y":2.8,"l":2.4,"h":3.2},
{"k":"t","c":5,"x":0.5,"y":0.55,"s":"R = 0.36 , P = 4.3e-05"},
{"c":5,"x":0.6,"y":0.5},{"c":5,"x":1,"y":0.5},{"c":5,"x":1.5,"y":0.5},{"c":5,"x":0.5,"y":1},{"c":5,"x":0.8,"y":1},{"c":5,"x":1.2,"y":1},{"c":5,"x":1.6,"y":1},{"c":5,"x":2,"y":1},{"c":5,"x":2.5,"y":1},{"c":5,"x":0.6,"y":1.5},{"c":5,"x":1,"y":1.5},{"c":5,"x":1.3,"y":1.5},{"c":5,"x":1.7,"y":1.5},{"c":5,"x":2.1,"y":1.5},{"c":5,"x":2.6,"y":1.5},{"c":5,"x":3,"y":1.5},{"c":5,"x":0.7,"y":2},{"c":5,"x":1.1,"y":2},{"c":5,"x":1.5,"y":2},{"c":5,"x":1.9,"y":2},{"c":5,"x":2.4,"y":2},{"c":5,"x":3.2,"y":2},{"c":5,"x":0.9,"y":2.5},{"c":5,"x":1.4,"y":2.5},{"c":5,"x":2,"y":2.5},{"c":5,"x":2.7,"y":2.5},{"c":5,"x":1.2,"y":3},{"c":5,"x":2.2,"y":3},{"c":5,"x":3.5,"y":3},{"c":5,"x":4.2,"y":3},{"c":5,"x":3.8,"y":2.4},{"c":5,"x":2.6,"y":4},
{"k":"d","c":6,"x":-0.2,"y":-0.2},{"k":"d","c":6,"x":4.2,"y":4.5},
{"k":"f","c":6,"x":0,"y":0.2,"l":0,"h":0.4},{"k":"f","c":6,"x":1.9,"y":1.7,"l":1.6,"h":1.8},{"k":"f","c":6,"x":3.9,"y":3.3,"l":2.9,"h":3.7},
{"k":"t","c":6,"x":0,"y":0.13,"s":"R = 0.6 , P = 2.1e-11"},
{"c":6,"x":0.05,"y":0},{"c":6,"x":0.1,"y":0.5},{"c":6,"x":0.2,"y":0.2},{"c":6,"x":0.3,"y":1},{"c":6,"x":0.4,"y":0.5},{"c":6,"x":0.5,"y":0},{"c":6,"x":0.6,"y":1},{"c":6,"x":0.7,"y":0.5},{"c":6,"x":0.8,"y":1.5},{"c":6,"x":1,"y":1},{"c":6,"x":1.2,"y":0.5},{"c":6,"x":1.3,"y":1.5},{"c":6,"x":1.5,"y":2},{"c":6,"x":1.7,"y":1},{"c":6,"x":1.9,"y":1.5},{"c":6,"x":2.1,"y":2.5},{"c":6,"x":2.4,"y":2},{"c":6,"x":2.7,"y":1.5},{"c":6,"x":3,"y":3},{"c":6,"x":3.4,"y":2.5},{"c":6,"x":3.9,"y":3},
{"k":"d","c":7,"x":-4,"y":-4},{"k":"d","c":7,"x":112,"y":110},
{"k":"f","c":7,"x":0,"y":1,"l":-1,"h":3},{"k":"f","c":7,"x":55,"y":22,"l":20,"h":24},{"k":"f","c":7,"x":110,"y":44,"l":40,"h":48},
{"k":"t","c":7,"x":0,"y":4,"s":"R = 0.95 , P = 2.2e-16"},
{"c":7,"x":1,"y":0},{"c":7,"x":2,"y":3},{"c":7,"x":4,"y":1},{"c":7,"x":6,"y":5},{"c":7,"x":8,"y":3},{"c":7,"x":10,"y":7},{"c":7,"x":13,"y":4},{"c":7,"x":16,"y":9},{"c":7,"x":20,"y":6},{"c":7,"x":25,"y":10},{"c":7,"x":30,"y":14},{"c":7,"x":40,"y":18},{"c":7,"x":60,"y":20},{"c":7,"x":75,"y":32},{"c":7,"x":95,"y":40},{"c":7,"x":110,"y":46},{"c":7,"x":85,"y":25},
{"k":"d","c":8,"x":0,"y":-0.3},{"k":"d","c":8,"x":7,"y":7},
{"k":"f","c":8,"x":0.5,"y":1.4,"l":0.9,"h":1.9},{"k":"f","c":8,"x":3,"y":2.1,"l":1.8,"h":2.4},{"k":"f","c":8,"x":6.5,"y":3.1,"l":2.3,"h":3.9},
{"k":"t","c":8,"x":0.5,"y":0.21,"s":"R = 0.38 , P = 0.0086"},
{"c":8,"x":0.5,"y":0.6},{"c":8,"x":0.7,"y":2.1},{"c":8,"x":0.9,"y":1.2},{"c":8,"x":1.1,"y":0.5},{"c":8,"x":1.3,"y":2.6},{"c":8,"x":1.5,"y":1.5},{"c":8,"x":1.7,"y":0.8},{"c":8,"x":1.9,"y":3.2},{"c":8,"x":2.1,"y":1.8},{"c":8,"x":2.3,"y":1.1},{"c":8,"x":2.6,"y":2.4},{"c":8,"x":2.9,"y":1.5},{"c":8,"x":3.2,"y":3.4},{"c":8,"x":3.5,"y":1.8},{"c":8,"x":3.9,"y":2.8},{"c":8,"x":4.3,"y":1.4},{"c":8,"x":4.8,"y":4.4},{"c":8,"x":5.2,"y":2.2},{"c":8,"x":5.8,"y":3.4},{"c":8,"x":6.5,"y":2.8},{"c":8,"x":6.2,"y":5.5},
{"k":"d","c":9,"x":-0.05,"y":-0.1},{"k":"d","c":9,"x":2.1,"y":3.3},
{"k":"f","c":9,"x":0.1,"y":0.7,"l":0.2,"h":1.2},{"k":"f","c":9,"x":0.9,"y":1.2,"l":1,"h":1.4},{"k":"f","c":9,"x":1.9,"y":1.8,"l":1.2,"h":2.4},
{"k":"t","c":9,"x":0.1,"y":0.14,"s":"R = 0.39 , P = 0.044"},
{"c":9,"x":0.1,"y":0.5},{"c":9,"x":0.2,"y":1},{"c":9,"x":0.3,"y":0.5},{"c":9,"x":0.4,"y":1.5},{"c":9,"x":0.5,"y":1},{"c":9,"x":0.6,"y":0.5},{"c":9,"x":0.7,"y":2},{"c":9,"x":0.8,"y":1},{"c":9,"x":0.9,"y":1.5},{"c":9,"x":1,"y":0.5},{"c":9,"x":1.1,"y":2.5},{"c":9,"x":1.2,"y":1},{"c":9,"x":1.3,"y":1.5},{"c":9,"x":1.4,"y":2},{"c":9,"x":1.5,"y":1},{"c":9,"x":1.6,"y":3},{"c":9,"x":1.7,"y":1.5},{"c":9,"x":1.9,"y":2},
{"k":"d","c":10,"x":-1,"y":-1},{"k":"d","c":10,"x":27,"y":27},
{"k":"f","c":10,"x":1,"y":0.5,"l":-0.5,"h":1.5},{"k":"f","c":10,"x":13,"y":4.3,"l":3.5,"h":5.1},{"k":"f","c":10,"x":25,"y":8,"l":6.5,"h":9.5},
{"k":"t","c":10,"x":1,"y":1,"s":"R = 0.32 , P = 0.3"},
{"c":10,"x":1,"y":0.5},{"c":10,"x":2,"y":1},{"c":10,"x":3,"y":0.3},{"c":10,"x":25,"y":8.2}
],
"E":[
{"k":"d","c":1,"x":-0.6,"y":-0.6},{"k":"d","c":1,"x":16,"y":16},
{"k":"f","c":1,"x":0.5,"y":0.2,"l":0,"h":0.4},{"k":"f","c":1,"x":8,"y":2.4,"l":2.25,"h":2.55},{"k":"f","c":1,"x":15.5,"y":4.6,"l":4.2,"h":5},
{"k":"t","c":1,"x":0.5,"y":0.56,"s":"R = 0.73 , P = 9.4e-14"},
{"c":1,"x":0.5,"y":0.1},{"c":1,"x":0.8,"y":0.5},{"c":1,"x":1,"y":0.2},{"c":1,"x":1.2,"y":0.7},{"c":1,"x":1.5,"y":0.4},{"c":1,"x":1.8,"y":0.9},{"c":1,"x":2,"y":0.6},{"c":1,"x":2.3,"y":1.1},{"c":1,"x":2.6,"y":0.8},{"c":1,"x":3,"y":1.5},{"c":1,"x":3.3,"y":2.2},{"c":1,"x":3.5,"y":1},{"c":1,"x":3.8,"y":1.8},{"c":1,"x":4.2,"y":2.5},{"c":1,"x":5,"y":1.4},{"c":1,"x":6.5,"y":2.2},{"c":1,"x":15.5,"y":4.5},
{"k":"d","c":2,"x":-0.5,"y":-0.6},{"k":"d","c":2,"x":15,"y":16},
{"k":"f","c":2,"x":0.2,"y":0.1,"l":-0.1,"h":0.3},{"k":"f","c":2,"x":7,"y":2.2,"l":2.05,"h":2.35},{"k":"f","c":2,"x":14.5,"y":4.4,"l":3.9,"h":4.9},
{"k":"t","c":2,"x":0.2,"y":0.56,"s":"R = 0.64 , P = 3.2e-15"},
{"c":2,"x":0.2,"y":0},{"c":2,"x":0.4,"y":0.5},{"c":2,"x":0.6,"y":0.2},{"c":2,"x":0.8,"y":1},{"c":2,"x":1,"y":0.4},{"c":2,"x":1.2,"y":0.7},{"c":2,"x":1.5,"y":1.4},{"c":2,"x":1.8,"y":0.6},{"c":2,"x":2,"y":1},{"c":2,"x":2.3,"y":1.8},{"c":2,"x":2.6,"y":0.8},{"c":2,"x":3,"y":1.3},{"c":2,"x":3.4,"y":2},{"c":2,"x":3.8,"y":1},{"c":2,"x":4.2,"y":2.4},{"c":2,"x":4.8,"y":1.5},{"c":2,"x":5.5,"y":2.8},{"c":2,"x":6.5,"y":2},{"c":2,"x":7.8,"y":3.8},{"c":2,"x":9,"y":3},{"c":2,"x":10,"y":2.5},{"c":2,"x":14.5,"y":4.6},
{"k":"d","c":3,"x":-0.3,"y":-0.3},{"k":"d","c":3,"x":9.5,"y":9.5},
{"k":"f","c":3,"x":0.6,"y":0.55,"l":0.35,"h":0.75},{"k":"f","c":3,"x":4.5,"y":1.5,"l":1.4,"h":1.6},{"k":"f","c":3,"x":9,"y":2.5,"l":2.1,"h":2.9},
{"k":"t","c":3,"x":0.6,"y":0.39,"s":"R = 0.6 , P = 1.1e-10"},
{"c":3,"x":0.6,"y":0.2},{"c":3,"x":0.8,"y":0.8},{"c":3,"x":1,"y":0.5},{"c":3,"x":1.2,"y":1.1},{"c":3,"x":1.5,"y":0.4},{"c":3,"x":1.7,"y":0.9},{"c":3,"x":2,"y":1.4},{"c":3,"x":2.2,"y":0.7},{"c":3,"x":2.5,"y":1.2},{"c":3,"x":2.8,"y":1.8},{"c":3,"x":3,"y":0.9},{"c":3,"x":3.3,"y":1.5},{"c":3,"x":3.7,"y":2.1},{"c":3,"x":4,"y":1.1},{"c":3,"x":4.5,"y":1.7},{"c":3,"x":5,"y":2.3},{"c":3,"x":5.5,"y":1.3},{"c":3,"x":6,"y":2.2},{"c":3,"x":6.5,"y":1.7},{"c":3,"x":7.5,"y":2.7},{"c":3,"x":8.2,"y":2.2},{"c":3,"x":9,"y":3},
{"k":"d","c":4,"x":0,"y":-0.6},{"k":"d","c":4,"x":16,"y":16},
{"k":"f","c":4,"x":1,"y":0.8,"l":0.5,"h":1.1},{"k":"f","c":4,"x":8,"y":2.5,"l":2.3,"h":2.7},{"k":"f","c":4,"x":15.5,"y":4.3,"l":3.8,"h":4.8},
{"k":"t","c":4,"x":1,"y":0.56,"s":"R = 0.76 , P = 1.6e-09"},
{"c":4,"x":1,"y":0.5},{"c":4,"x":1.5,"y":1},{"c":4,"x":2,"y":0.7},{"c":4,"x":2.5,"y":1.3},{"c":4,"x":3,"y":1},{"c":4,"x":3.5,"y":1.6},{"c":4,"x":4,"y":2.2},{"c":4,"x":4.5,"y":1.4},{"c":4,"x":5,"y":2},{"c":4,"x":5.5,"y":2.5},{"c":4,"x":6,"y":1.7},{"c":4,"x":7,"y":2.6},{"c":4,"x":8,"y":2.2},{"c":4,"x":10,"y":3},{"c":4,"x":12,"y":3.4},{"c":4,"x":14,"y":4},{"c":4,"x":15.5,"y":3.6},
{"k":"d","c":5,"x":-0.3,"y":-0.3},{"k":"d","c":5,"x":6.8,"y":6.8},
{"k":"f","c":5,"x":0.7,"y":0.55,"l":0.4,"h":0.7},{"k":"f","c":5,"x":3.5,"y":1.75,"l":1.65,"h":1.85},{"k":"f","c":5,"x":6.4,"y":2.9,"l":2.65,"h":3.15},
{"k":"t","c":5,"x":0.7,"y":0.55,"s":"R = 0.69 , P = 2.2e-16"},
{"c":5,"x":0.8,"y":0.5},{"c":5,"x":1.2,"y":0.5},{"c":5,"x":1.6,"y":0.5},{"c":5,"x":2,"y":0.5},{"c":5,"x":1,"y":1},{"c":5,"x":1.5,"y":1},{"c":5,"x":2,"y":1},{"c":5,"x":2.5,"y":1},{"c":5,"x":3,"y":1},{"c":5,"x":1.2,"y":1.5},{"c":5,"x":1.8,"y":1.5},{"c":5,"x":2.4,"y":1.5},{"c":5,"x":3,"y":1.5},{"c":5,"x":3.5,"y":1.5},{"c":5,"x":1.6,"y":2},{"c":5,"x":2.2,"y":2},{"c":5,"x":2.8,"y":2},{"c":5,"x":3.4,"y":2},{"c":5,"x":4,"y":2},{"c":5,"x":4.5,"y":2},{"c":5,"x":2.4,"y":2.5},{"c":5,"x":3.2,"y":2.5},{"c":5,"x":4,"y":2.5},{"c":5,"x":4.8,"y":2.5},{"c":5,"x":5.5,"y":2.5},{"c":5,"x":3.5,"y":3},{"c":5,"x":4.5,"y":3},{"c":5,"x":5.5,"y":3},{"c":5,"x":6.2,"y":3},{"c":5,"x":6,"y":2.7},{"c":5,"x":2,"y":0},
{"k":"d","c":6,"x":-0.3,"y":-0.3},{"k":"d","c":6,"x":6.3,"y":6.3},
{"k":"f","c":6,"x":0,"y":0.05,"l":-0.1,"h":0.2},{"k":"f","c":6,"x":3,"y":1.45,"l":1.35,"h":1.55},{"k":"f","c":6,"x":6,"y":2.9,"l":2.6,"h":3.2},
{"k":"t","c":6,"x":0,"y":0.16,"s":"R = 0.86 , P < 2.2e-16"},
{"c":6,"x":0.05,"y":0},{"c":6,"x":0.1,"y":0.25},{"c":6,"x":0.2,"y":0.1},{"c":6,"x":0.4,"y":0.3},{"c":6,"x":0.5,"y":0.1},{"c":6,"x":0.6,"y":0.4},{"c":6,"x":0.8,"y":0.2},{"c":6,"x":1,"y":0.5},{"c":6,"x":1,"y":1},{"c":6,"x":1.3,"y":0.5},{"c":6,"x":1.5,"y":0.8},{"c":6,"x":2,"y":1},{"c":6,"x":2.5,"y":1},{"c":6,"x":2.5,"y":1.5},{"c":6,"x":3,"y":1.5},{"c":6,"x":3.5,"y":2},{"c":6,"x":4,"y":2},{"c":6,"x":4.5,"y":1.5},{"c":6,"x":5,"y":2.5},{"c":6,"x":6,"y":1.9},{"c":6,"x":6,"y":3},
{"k":"d","c":7,"x":-4,"y":-4},{"k":"d","c":7,"x":122,"y":122},
{"k":"f","c":7,"x":0,"y":0.5,"l":-0.5,"h":1.5},{"k":"f","c":7,"x":60,"y":20,"l":19,"h":21},{"k":"f","c":7,"x":120,"y":40,"l":38,"h":42},
{"k":"t","c":7,"x":0,"y":4.8,"s":"R = 0.96 , P < 2.2e-16"},
{"c":7,"x":1,"y":0},{"c":7,"x":3,"y":1},{"c":7,"x":5,"y":2},{"c":7,"x":8,"y":3},{"c":7,"x":10,"y":5},{"c":7,"x":13,"y":4},{"c":7,"x":16,"y":6},{"c":7,"x":20,"y":8},{"c":7,"x":25,"y":9},{"c":7,"x":30,"y":11},{"c":7,"x":40,"y":13},{"c":7,"x":55,"y":20},{"c":7,"x":70,"y":23},{"c":7,"x":90,"y":30},{"c":7,"x":110,"y":36},{"c":7,"x":120,"y":40},
{"k":"d","c":8,"x":0,"y":-0.3},{"k":"d","c":8,"x":7,"y":6.8},
{"k":"f","c":8,"x":0.3,"y":0.3,"l":0,"h":0.6},{"k":"f","c":8,"x":3.4,"y":1.3,"l":1.15,"h":1.45},{"k":"f","c":8,"x":6.5,"y":2.3,"l":1.9,"h":2.7},
{"k":"t","c":8,"x":0.3,"y":0.2,"s":"R = 0.76 , P = 3.4e-10"},
{"c":8,"x":0.3,"y":0.2},{"c":8,"x":0.5,"y":0.5},{"c":8,"x":0.8,"y":0.3},{"c":8,"x":1,"y":0.8},{"c":8,"x":1.3,"y":0.5},{"c":8,"x":1.6,"y":1},{"c":8,"x":1.8,"y":0.6},{"c":8,"x":2,"y":1.4},{"c":8,"x":2.3,"y":0.9},{"c":8,"x":2.5,"y":1.6},{"c":8,"x":2.8,"y":1.2},{"c":8,"x":3,"y":0.7},{"c":8,"x":3.5,"y":1.4},{"c":8,"x":4,"y":1},{"c":8,"x":4.5,"y":1.9},{"c":8,"x":5,"y":1.5},{"c":8,"x":5.8,"y":2.7},{"c":8,"x":6.2,"y":2.7},{"c":8,"x":6.5,"y":1.7},
{"k":"d","c":9,"x":-0.2,"y":-0.2},{"k":"d","c":9,"x":4,"y":3.9},
{"k":"f","c":9,"x":0.3,"y":0.4,"l":0.15,"h":0.65},{"k":"f","c":9,"x":2,"y":0.95,"l":0.85,"h":1.05},{"k":"f","c":9,"x":3.9,"y":1.5,"l":1.3,"h":1.7},
{"k":"t","c":9,"x":0.3,"y":0.09,"s":"R = 0.64 , P = 8.8e-07"},
{"c":9,"x":0.4,"y":0.2},{"c":9,"x":0.5,"y":0.5},{"c":9,"x":0.7,"y":0.3},{"c":9,"x":0.8,"y":0.8},{"c":9,"x":1,"y":0.5},{"c":9,"x":1.2,"y":0.3},{"c":9,"x":1.3,"y":0.8},{"c":9,"x":1.5,"y":0.5},{"c":9,"x":1.7,"y":1},{"c":9,"x":1.8,"y":1.9},{"c":9,"x":2,"y":0.5},{"c":9,"x":2.2,"y":0.8},{"c":9,"x":2.5,"y":1.2},{"c":9,"x":2.7,"y":1},{"c":9,"x":3,"y":1.9},{"c":9,"x":3.3,"y":1.2},{"c":9,"x":3.6,"y":1.5},{"c":9,"x":3.9,"y":1.4},
{"k":"d","c":10,"x":-0.5,"y":-0.6},{"k":"d","c":10,"x":13.5,"y":13},
{"k":"f","c":10,"x":0.5,"y":0.5,"l":-0.3,"h":1.3},{"k":"f","c":10,"x":6.5,"y":4.8,"l":4.3,"h":5.3},{"k":"f","c":10,"x":13,"y":9.4,"l":8.2,"h":10.6},
{"k":"t","c":10,"x":0.5,"y":0.35,"s":"R = 0.89 , P = 0.0013"},
{"c":10,"x":0.5,"y":0.2},{"c":10,"x":0.8,"y":1},{"c":10,"x":1,"y":0.5},{"c":10,"x":1.2,"y":0.3},{"c":10,"x":5,"y":4.6},{"c":10,"x":13,"y":9.5}
]},
"vconcat":[
{"title":{"text":"A"},"data":{"name":"A"},"transform":[{"calculate":"'WES—all mutations'","as":"g"}],
"facet":{"row":{"field":"g","type":"nominal","title":null},"column":{"field":"c","type":"ordinal","title":"WGS—all mutations"}},
"spacing":{"column":15,"row":0},"bounds":"flush","resolve":{"scale":{"x":"independent","y":"independent"}},
"spec":{"width":58,"height":58,
"encoding":{"x":{"field":"x","type":"quantitative","scale":{"nice":false,"zero":false}},"y":{"field":"y","type":"quantitative","scale":{"nice":false,"zero":false}},
"color":{"field":"c","type":"nominal","scale":{"domain":[1,2,3,4,5,6,7,8,9,10],"range":["#1f6b32","#a31a5e","#8a9918","#244a80","#b3261e","#e2ab2f","#13838b","#4f80aa","#f1662b","#8459b9"]},"legend":null}},
"layer":[
{"transform":[{"filter":"datum.k=='f'"}],"mark":{"type":"area","opacity":0.35,"interpolate":"monotone"},"encoding":{"y":{"field":"l","type":"quantitative"},"y2":{"field":"h"}}},
{"transform":[{"filter":"!datum.k"}],"mark":{"type":"point","filled":true,"size":11,"opacity":0.42}},
{"transform":[{"filter":"datum.k=='f'"}],"mark":{"type":"line","strokeWidth":1,"interpolate":"monotone"}},
{"transform":[{"filter":"datum.k=='d'"}],"mark":{"type":"point","opacity":0}},
{"transform":[{"filter":"datum.k=='t'"}],"mark":{"type":"text","align":"left","baseline":"middle","fontSize":4.8},"encoding":{"text":{"field":"s"}}}]}},
{"title":{"text":"B"},"data":{"name":"B"},"transform":[{"calculate":"'WES—NS mutations'","as":"g"}],
"facet":{"row":{"field":"g","type":"nominal","title":null},"column":{"field":"c","type":"ordinal","title":"WES—all mutations"}},
"spacing":{"column":15,"row":0},"bounds":"flush","resolve":{"scale":{"x":"independent","y":"independent"}},
"spec":{"width":58,"height":58,
"encoding":{"x":{"field":"x","type":"quantitative","scale":{"nice":false,"zero":false}},"y":{"field":"y","type":"quantitative","scale":{"nice":false,"zero":false}},
"color":{"field":"c","type":"nominal","scale":{"domain":[1,2,3,4,5,6,7,8,9,10],"range":["#1f6b32","#a31a5e","#8a9918","#244a80","#b3261e","#e2ab2f","#13838b","#4f80aa","#f1662b","#8459b9"]},"legend":null}},
"layer":[
{"transform":[{"filter":"datum.k=='f'"}],"mark":{"type":"area","opacity":0.35,"interpolate":"monotone"},"encoding":{"y":{"field":"l","type":"quantitative"},"y2":{"field":"h"}}},
{"transform":[{"filter":"!datum.k"}],"mark":{"type":"point","filled":true,"size":11,"opacity":0.42}},
{"transform":[{"filter":"datum.k=='f'"}],"mark":{"type":"line","strokeWidth":1,"interpolate":"monotone"}},
{"transform":[{"filter":"datum.k=='d'"}],"mark":{"type":"point","opacity":0}},
{"transform":[{"filter":"datum.k=='t'"}],"mark":{"type":"text","align":"left","baseline":"middle","fontSize":4.8},"encoding":{"text":{"field":"s"}}}]}},
{"title":{"text":"C"},"data":{"name":"C"},"transform":[{"calculate":"'CPanel—all mutations'","as":"g"}],
"facet":{"row":{"field":"g","type":"nominal","title":null},"column":{"field":"c","type":"ordinal","title":"WES—all mutations"}},
"spacing":{"column":15,"row":0},"bounds":"flush","resolve":{"scale":{"x":"independent","y":"independent"}},
"spec":{"width":58,"height":58,
"encoding":{"x":{"field":"x","type":"quantitative","scale":{"nice":false,"zero":false}},"y":{"field":"y","type":"quantitative","scale":{"nice":false,"zero":false}},
"color":{"field":"c","type":"nominal","scale":{"domain":[1,2,3,4,5,6,7,8,9,10],"range":["#1f6b32","#a31a5e","#8a9918","#244a80","#b3261e","#e2ab2f","#13838b","#4f80aa","#f1662b","#8459b9"]},"legend":null}},
"layer":[
{"transform":[{"filter":"datum.k=='f'"}],"mark":{"type":"area","opacity":0.35,"interpolate":"monotone"},"encoding":{"y":{"field":"l","type":"quantitative"},"y2":{"field":"h"}}},
{"transform":[{"filter":"!datum.k"}],"mark":{"type":"point","filled":true,"size":11,"opacity":0.42}},
{"transform":[{"filter":"datum.k=='f'"}],"mark":{"type":"line","strokeWidth":1,"interpolate":"monotone"}},
{"transform":[{"filter":"datum.k=='d'"}],"mark":{"type":"point","opacity":0}},
{"transform":[{"filter":"datum.k=='t'"}],"mark":{"type":"text","align":"left","baseline":"middle","fontSize":4.8},"encoding":{"text":{"field":"s"}}}]}},
{"title":{"text":"D"},"data":{"name":"D"},"transform":[{"calculate":"'CPanel—NS mutations'","as":"g"}],
"facet":{"row":{"field":"g","type":"nominal","title":null},"column":{"field":"c","type":"ordinal","title":"WES—NS mutations"}},
"spacing":{"column":15,"row":0},"bounds":"flush","resolve":{"scale":{"x":"independent","y":"independent"}},
"spec":{"width":58,"height":58,
"encoding":{"x":{"field":"x","type":"quantitative","scale":{"nice":false,"zero":false}},"y":{"field":"y","type":"quantitative","scale":{"nice":false,"zero":false}},
"color":{"field":"c","type":"nominal","scale":{"domain":[1,2,3,4,5,6,7,8,9,10],"range":["#1f6b32","#a31a5e","#8a9918","#244a80","#b3261e","#e2ab2f","#13838b","#4f80aa","#f1662b","#8459b9"]},"legend":null}},
"layer":[
{"transform":[{"filter":"datum.k=='f'"}],"mark":{"type":"area","opacity":0.35,"interpolate":"monotone"},"encoding":{"y":{"field":"l","type":"quantitative"},"y2":{"field":"h"}}},
{"transform":[{"filter":"!datum.k"}],"mark":{"type":"point","filled":true,"size":11,"opacity":0.42}},
{"transform":[{"filter":"datum.k=='f'"}],"mark":{"type":"line","strokeWidth":1,"interpolate":"monotone"}},
{"transform":[{"filter":"datum.k=='d'"}],"mark":{"type":"point","opacity":0}},
{"transform":[{"filter":"datum.k=='t'"}],"mark":{"type":"text","align":"left","baseline":"middle","fontSize":4.8},"encoding":{"text":{"field":"s"}}}]}},
{"title":{"text":"E"},"data":{"name":"E"},"transform":[{"calculate":"'CPanel—NS mutations'","as":"g"}],
"facet":{"row":{"field":"g","type":"nominal","title":null},"column":{"field":"c","type":"ordinal","title":"CPanel—all mutations"}},
"spacing":{"column":15,"row":0},"bounds":"flush","resolve":{"scale":{"x":"independent","y":"independent"}},
"spec":{"width":58,"height":58,
"encoding":{"x":{"field":"x","type":"quantitative","scale":{"nice":false,"zero":false}},"y":{"field":"y","type":"quantitative","scale":{"nice":false,"zero":false}},
"color":{"field":"c","type":"nominal","scale":{"domain":[1,2,3,4,5,6,7,8,9,10],"range":["#1f6b32","#a31a5e","#8a9918","#244a80","#b3261e","#e2ab2f","#13838b","#4f80aa","#f1662b","#8459b9"]},"legend":null}},
"layer":[
{"transform":[{"filter":"datum.k=='f'"}],"mark":{"type":"area","opacity":0.35,"interpolate":"monotone"},"encoding":{"y":{"field":"l","type":"quantitative"},"y2":{"field":"h"}}},
{"transform":[{"filter":"!datum.k"}],"mark":{"type":"point","filled":true,"size":11,"opacity":0.42}},
{"transform":[{"filter":"datum.k=='f'"}],"mark":{"type":"line","strokeWidth":1,"interpolate":"monotone"}},
{"transform":[{"filter":"datum.k=='d'"}],"mark":{"type":"point","opacity":0}},
{"transform":[{"filter":"datum.k=='t'"}],"mark":{"type":"text","align":"left","baseline":"middle","fontSize":4.8},"encoding":{"text":{"field":"s"}}}]}}
]}
